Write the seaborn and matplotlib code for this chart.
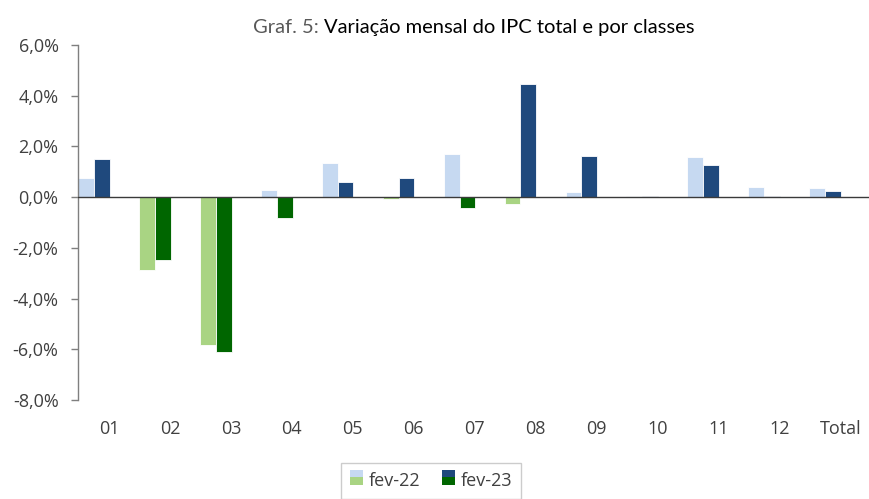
import matplotlib
matplotlib.use("Agg")
import matplotlib.pyplot as plt
from matplotlib.patches import Rectangle
import seaborn as sns
import pandas as pd

classes = ["01", "02", "03", "04", "05", "06", "07", "08", "09", "10", "11", "12", "Total"]
fev22 = [0.77, -2.87, -5.81, 0.30, 1.35, -0.08, 1.70, -0.25, 0.21, 0.05, 1.58, 0.40, 0.36]
fev23 = [1.51, -2.48, -6.09, -0.81, 0.58, 0.77, -0.41, 4.45, 1.62, 0.03, 1.26, 0.03, 0.24]
series = ["fev-22", "fev-23"]
y_ticks = [6, 4, 2, 0, -2, -4, -6, -8]

cores_pos = {"fev-22": "#C6D9F1", "fev-23": "#1F497D"}
cores_neg = {"fev-22": "#A9D483", "fev-23": "#006600"}


class SplitHandler:
    # quadrado da legenda: metade de cima azul, metade de baixo verde
    def legend_artist(self, legend, orig_handle, fontsize, handlebox):
        x0, y0 = handlebox.xdescent, handlebox.ydescent
        w, h = handlebox.width, handlebox.height
        tr = handlebox.get_transform()
        cima = Rectangle((x0, y0 + h / 2), w, h / 2, facecolor=orig_handle[0], edgecolor="none", transform=tr)
        baixo = Rectangle((x0, y0), w, h / 2, facecolor=orig_handle[1], edgecolor="none", transform=tr)
        handlebox.add_artist(cima)
        handlebox.add_artist(baixo)
        return cima


df = pd.DataFrame({
    "classe": classes * 2,
    "serie": ["fev-22"] * len(classes) + ["fev-23"] * len(classes),
    "valor": fev22 + fev23,
})

sns.set_style("white")
plt.rcParams["font.family"] = ["Open Sans", "DejaVu Sans"]

fig = plt.figure(figsize=(8.69, 4.99), dpi=100)
ax = fig.add_axes([0.0898, 0.198, 0.9102, 0.712])

sns.barplot(data=df, x="classe", y="valor", hue="serie", order=classes,
            hue_order=series, width=0.52, ax=ax, legend=False,
            edgecolor="white", linewidth=0.6)

# cor conforme o sinal
for serie, cont in zip(series, ax.containers):
    for barra in cont:
        cor = cores_neg[serie] if barra.get_height() < 0 else cores_pos[serie]
        barra.set_facecolor(cor)

ax.axhline(0, color="#3a3a3a", linewidth=1.0, zorder=5)

ax.set_ylim(-8, 6)
ax.set_yticks(y_ticks)
ax.set_yticklabels([f"{v:.1f}%".replace(".", ",") for v in y_ticks])
ax.set_xticks([i + 0.25 for i in range(len(classes))])
ax.set_xticklabels(classes)
ax.set_xlim(-0.26, 12.72)
ax.set_xlabel("")
ax.set_ylabel("")

for lado in ["top", "right", "bottom"]:
    ax.spines[lado].set_visible(False)
ax.spines["left"].set_color("#7f7f7f")
ax.spines["left"].set_linewidth(1.0)
ax.tick_params(axis="y", left=True, length=5, width=1, color="#7f7f7f",
               labelsize=13, labelcolor="#404040", pad=9)
ax.tick_params(axis="x", length=0, labelsize=13, labelcolor="#404040", pad=14)

fig.text(0.367, 0.944, "Graf. 5:", ha="right", va="center", fontsize=14.5,
         color="#595959", family=["Lato", "DejaVu Sans"])
fig.text(0.373, 0.944, "Variação mensal do IPC total e por classes", ha="left",
         va="center", fontsize=14.5, color="#000000", family=["Lato", "DejaVu Sans"])

handles = [(cores_pos[s], cores_neg[s]) for s in series]
leg = fig.legend(handles, series, handler_map={tuple: SplitHandler()},
                 loc="upper center", bbox_to_anchor=(0.496, 0.09), ncol=2,
                 fancybox=False, frameon=True, edgecolor="#c0c0c0",
                 fontsize=13, handlelength=0.75, handleheight=0.9,
                 handletextpad=0.3, columnspacing=1.2, borderpad=0.5)
leg.get_frame().set_linewidth(1.0)
for t in leg.get_texts():
    t.set_color("#404040")

fig.savefig("out.png", dpi=100)
plt.close(fig)
